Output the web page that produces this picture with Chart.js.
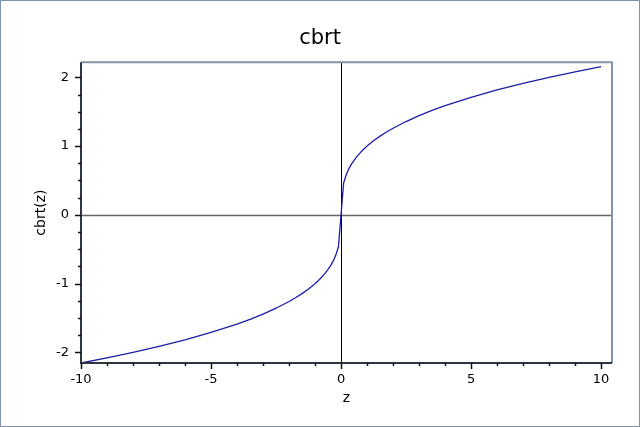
<!DOCTYPE html>
<html>
<head>
<meta charset="utf-8">
<script src="https://cdn.jsdelivr.net/npm/chart.js@4"></script>
<style>
  html, body { margin: 0; padding: 0; background: #fff; }
  #wrap { width: 640px; height: 427px; position: relative; }
</style>
</head>
<body>
<div id="wrap"><canvas id="chart" width="640" height="427"></canvas></div>
<script>
// sample points
const zValues = [-10, -9, -8, -7, -6, -5, -4, -3.5, -3, -2.5, -2, -1.75, -1.5, -1.25, -1,
  -0.9, -0.8, -0.7, -0.6, -0.5, -0.4, -0.3, -0.2, -0.1, 0,
  0.1, 0.2, 0.3, 0.4, 0.5, 0.6, 0.7, 0.8, 0.9,
  1, 1.25, 1.5, 1.75, 2, 2.5, 3, 3.5, 4, 5, 6, 7, 8, 9, 10];
const cbrtValues = [-2.1544, -2.0801, -2, -1.9129, -1.8171, -1.71, -1.5874, -1.5183, -1.4422, -1.3572, -1.2599, -1.2051, -1.1447, -1.0772, -1,
  -0.9655, -0.9283, -0.8879, -0.8434, -0.7937, -0.7368, -0.6694, -0.5848, -0.4642, 0,
  0.4642, 0.5848, 0.6694, 0.7368, 0.7937, 0.8434, 0.8879, 0.9283, 0.9655,
  1, 1.0772, 1.1447, 1.2051, 1.2599, 1.3572, 1.4422, 1.5183, 1.5874, 1.71, 1.8171, 1.9129, 2, 2.0801, 2.1544];

const xTicks = [-10, -5, 0, 5, 10];
const yTicks = [-2, -1, 0, 1, 2];

const points = zValues.map((z, i) => ({ x: z, y: cbrtValues[i] }));

const font = "'DejaVu Sans', Verdana, sans-serif";

// frame, zero lines and tick marks
const decor = {
  id: "decor",
  beforeDatasetsDraw(chart) {
    const { ctx, chartArea: a, scales: { x, y } } = chart;
    ctx.save();
    const y0 = Math.round(y.getPixelForValue(0)) + 0.5;
    ctx.strokeStyle = "#666";
    ctx.lineWidth = 1.5;
    ctx.beginPath(); ctx.moveTo(a.left, y0); ctx.lineTo(a.right, y0); ctx.stroke();
    const x0 = Math.round(x.getPixelForValue(0)) + 0.5;
    ctx.strokeStyle = "#000";
    ctx.lineWidth = 1;
    ctx.beginPath(); ctx.moveTo(x0, a.top); ctx.lineTo(x0, a.bottom); ctx.stroke();
    ctx.restore();
  },
  afterDraw(chart) {
    const { ctx, chartArea: a, scales: { x, y } } = chart;
    ctx.save();
    // top + right
    ctx.strokeStyle = "#8494a6";
    ctx.lineWidth = 2;
    ctx.beginPath();
    ctx.moveTo(a.left, a.top); ctx.lineTo(a.right, a.top); ctx.lineTo(a.right, a.bottom);
    ctx.stroke();
    // left + bottom
    ctx.strokeStyle = "#2e3640";
    ctx.beginPath();
    ctx.moveTo(a.left, a.top); ctx.lineTo(a.left, a.bottom); ctx.lineTo(a.right, a.bottom);
    ctx.stroke();
    // ticks
    ctx.lineWidth = 1.5;
    ctx.strokeStyle = "#111";
    for (let v = -10; v <= 10; v++) {
      const px = Math.round(x.getPixelForValue(v)) + 0.5;
      const len = v % 5 === 0 ? 6 : 3;
      ctx.beginPath(); ctx.moveTo(px, a.bottom); ctx.lineTo(px, a.bottom + len); ctx.stroke();
    }
    for (let v = -2; v <= 2.2; v += 0.25) {
      const py = Math.round(y.getPixelForValue(v)) + 0.5;
      const len = Math.abs(v - Math.round(v)) < 1e-6 ? 6 : 3;
      ctx.beginPath(); ctx.moveTo(a.left, py); ctx.lineTo(a.left - len, py); ctx.stroke();
    }
    // outer border
    ctx.strokeStyle = "#7f93a8";
    ctx.lineWidth = 1;
    ctx.strokeRect(0.5, 0.5, chart.width - 1, chart.height - 1);
    ctx.restore();
  }
};

new Chart(document.getElementById("chart"), {
  type: "line",
  data: {
    datasets: [{
      data: points,
      borderColor: "#1c1caa",
      borderWidth: 1.3,
      pointRadius: 0,
      tension: 0,
      fill: false
    }]
  },
  options: {
    responsive: false,
    animation: false,
    layout: { padding: 0 },
    plugins: {
      legend: { display: false },
      tooltip: { enabled: false },
      title: {
        display: true,
        text: "cbrt",
        color: "#000",
        font: { family: font, size: 21, weight: "normal" },
        padding: { top: 26, bottom: 11 }
      }
    },
    scales: {
      x: {
        type: "linear",
        min: -10,
        max: 10.42,
        afterBuildTicks: s => { s.ticks = xTicks.map(v => ({ value: v })); },
        afterFit: s => { s.height = 64; },
        grid: { display: false, drawTicks: false },
        border: { display: false },
        ticks: { color: "#000", font: { family: font, size: 13 }, padding: 9, maxRotation: 0 },
        title: { display: true, text: "z", color: "#000", font: { family: font, size: 14 }, padding: { top: 0, bottom: 20 } }
      },
      y: {
        type: "linear",
        min: -2.154,
        max: 2.22,
        afterBuildTicks: s => { s.ticks = yTicks.map(v => ({ value: v })); },
        afterFit: s => { s.width = 81; },
        grid: { display: false, drawTicks: false },
        border: { display: false },
        ticks: { color: "#000", font: { family: font, size: 13 }, padding: 12 },
        title: { display: true, text: "cbrt(z)", color: "#000", font: { family: font, size: 14 }, padding: { top: 33, bottom: 0 } }
      },
      yRight: {
        position: "right",
        display: true,
        afterFit: s => { s.width = 28; },
        grid: { display: false, drawTicks: false },
        border: { display: false },
        ticks: { display: false }
      }
    }
  },
  plugins: [decor]
});
</script>
</body>
</html>
